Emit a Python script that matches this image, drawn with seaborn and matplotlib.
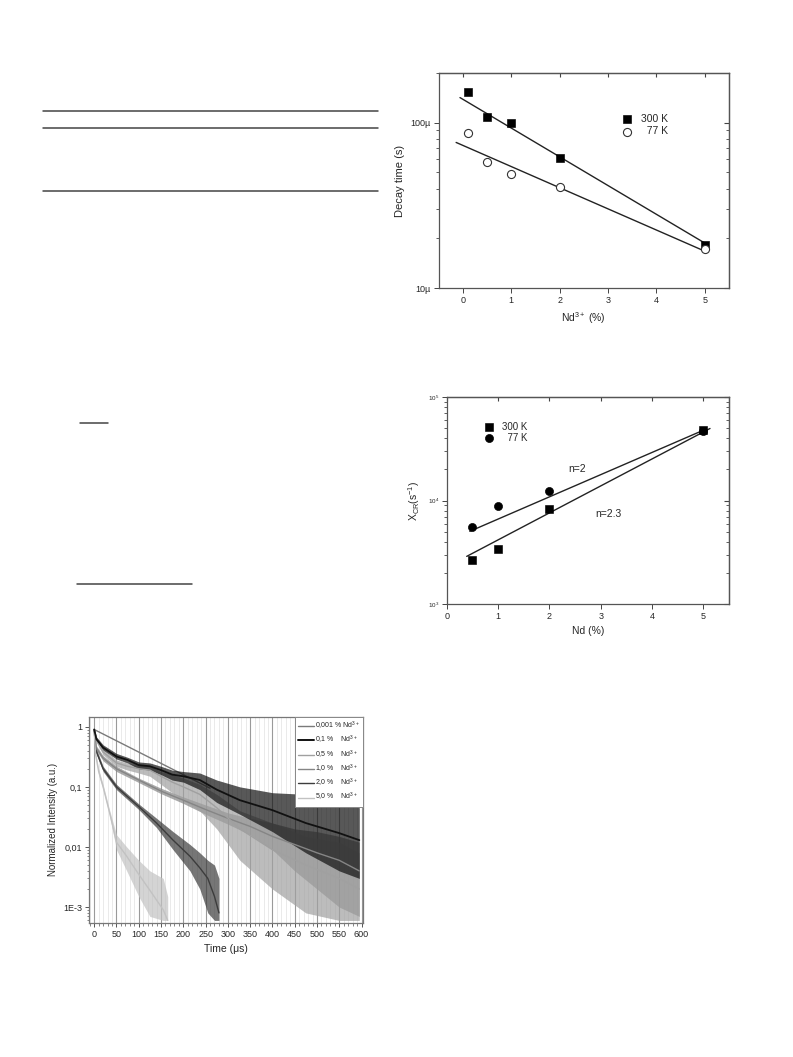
import numpy as np
import pandas as pd
import matplotlib
matplotlib.use('Agg')
import matplotlib.pyplot as plt
import matplotlib.ticker as mticker
from matplotlib.lines import Line2D
import seaborn as sns

# ---- data ----
# decay time vs Nd concentration
nd_conc = [0.1, 0.5, 1.0, 2.0, 5.0]
tau_300k = [1.53e-4, 1.08e-4, 1.0e-4, 6.1e-5, 1.82e-5]
tau_77k = [8.7e-5, 5.8e-5, 4.9e-5, 4.1e-5, 1.71e-5]
fit_x_300k = [-0.06, 5.0]
fit_y_300k = [1.42e-4, 1.87e-5]
fit_x_77k = [-0.14, 5.0]
fit_y_77k = [7.6e-5, 1.67e-5]

# cross relaxation rate vs Nd concentration
nd_cr = [0.5, 1.0, 2.0, 5.0]
xcr_300k = [2650, 3400, 8300, 48000]
xcr_77k = [5600, 8800, 12500, 46500]
cr_fit_x_300k = [0.39, 5.13]
cr_fit_y_300k = [2900, 49700]
cr_fit_x_77k = [0.45, 5.03]
cr_fit_y_77k = [5060, 48500]

# luminescence decay curves (centre line + noise envelope)
t_0001 = [0, 260]
i_0001 = [0.9, 0.095]

t_01 = [0, 5, 20, 50, 75, 100, 125, 150, 175, 200, 237, 275, 327, 400, 475, 550, 595]
i_01 = [0.9, 0.62, 0.45, 0.32, 0.28, 0.23, 0.22, 0.19, 0.16, 0.15, 0.13, 0.09, 0.06, 0.041, 0.025, 0.017, 0.013]
hi_01 = [0.95, 0.68, 0.5, 0.36, 0.31, 0.26, 0.25, 0.22, 0.19, 0.18, 0.17, 0.13, 0.1, 0.08, 0.075, 0.06, 0.045]
lo_01 = [0.85, 0.57, 0.41, 0.29, 0.25, 0.2, 0.19, 0.16, 0.13, 0.12, 0.09, 0.055, 0.035, 0.018, 0.008, 0.004, 0.003]

t_05 = t_01
i_05 = [0.9, 0.6, 0.38, 0.25, 0.22, 0.2, 0.19, 0.15, 0.12, 0.1, 0.075, 0.045, 0.02, 0.009, 0.005, 0.003, 0.002]
hi_05 = [0.95, 0.66, 0.42, 0.28, 0.25, 0.23, 0.22, 0.18, 0.16, 0.14, 0.11, 0.075, 0.04, 0.025, 0.015, 0.012, 0.008]
lo_05 = [0.85, 0.55, 0.34, 0.22, 0.19, 0.17, 0.15, 0.11, 0.08, 0.06, 0.04, 0.02, 0.006, 0.002, 0.0008, 0.0006, 0.0006]

t_10 = [0, 5, 20, 50, 100, 150, 200, 250, 300, 350, 400, 450, 500, 550, 595]
i_10 = [0.9, 0.44, 0.3, 0.2, 0.13, 0.085, 0.06, 0.042, 0.03, 0.022, 0.015, 0.011, 0.008, 0.006, 0.004]
hi_10 = [0.95, 0.48, 0.33, 0.22, 0.14, 0.095, 0.068, 0.05, 0.037, 0.03, 0.025, 0.02, 0.018, 0.015, 0.012]
lo_10 = [0.85, 0.4, 0.27, 0.18, 0.118, 0.077, 0.053, 0.035, 0.024, 0.016, 0.009, 0.004, 0.002, 0.001, 0.0007]

t_20 = [0, 3, 20, 50, 100, 140, 177, 215, 237, 255, 270, 280]
i_20 = [0.9, 0.42, 0.2, 0.1, 0.047, 0.025, 0.013, 0.007, 0.0045, 0.003, 0.0015, 0.0008]
hi_20 = [0.95, 0.46, 0.22, 0.11, 0.052, 0.03, 0.018, 0.011, 0.008, 0.006, 0.005, 0.003]
lo_20 = [0.85, 0.38, 0.18, 0.09, 0.042, 0.021, 0.009, 0.004, 0.002, 0.0008, 0.0006, 0.0006]

t_50 = [0, 3, 10, 20, 35, 50, 73, 100, 125, 155, 165]
i_50 = [0.9, 0.35, 0.18, 0.1, 0.036, 0.012, 0.007, 0.0035, 0.0019, 0.0009, 0.0006]
hi_50 = [0.95, 0.38, 0.2, 0.11, 0.04, 0.016, 0.01, 0.006, 0.004, 0.003, 0.0015]
lo_50 = [0.85, 0.32, 0.16, 0.09, 0.032, 0.009, 0.004, 0.0015, 0.0007, 0.0006, 0.0006]

curve_labels = ['0,001 % Nd$^{3+}$', '0,1 %    Nd$^{3+}$', '0,5 %    Nd$^{3+}$',
                '1,0 %    Nd$^{3+}$', '2,0 %    Nd$^{3+}$', '5,0 %    Nd$^{3+}$']

# page rules (table lines etc.) in pixels: x0, x1, y
page_rules = [(43, 378, 110.7), (43, 378, 128), (43, 378, 191), (80, 108, 423.3), (77, 192, 584)]

# ---- styling ----
sns.set_style('ticks')
plt.rcParams['font.family'] = ['Liberation Sans', 'DejaVu Sans']
plt.rcParams['mathtext.fontset'] = 'custom'
plt.rcParams['mathtext.rm'] = 'Liberation Sans'
plt.rcParams['mathtext.it'] = 'Liberation Sans'
plt.rcParams['axes.edgecolor'] = '#555555'
plt.rcParams['axes.linewidth'] = 0.9

W, H = 793, 1057
fig = plt.figure(figsize=(W / 100, H / 100), dpi=100)

for x0, x1, y in page_rules:
    fig.add_artist(Line2D([x0 / W, x1 / W], [1 - y / H, 1 - y / H], color='#444444', lw=1.1,
                          transform=fig.transFigure))


def frame_ticks(ax, xminor=False):
    ax.tick_params(which='major', length=3.5, width=0.7, labelsize=6.5, color='#444444', pad=2)
    ax.tick_params(which='minor', length=2, width=0.6, color='#444444')
    sy = ax.secondary_yaxis('right')
    sy.tick_params(which='both', direction='in', labelright=False, color='#444444')
    sy.tick_params(which='major', length=3.5)
    sy.tick_params(which='minor', length=2)
    sx = ax.secondary_xaxis('top')
    sx.tick_params(which='both', direction='in', labeltop=False, color='#444444', length=3)
    sx.xaxis.set_minor_locator(mticker.NullLocator())
    if not xminor:
        ax.xaxis.set_minor_locator(mticker.NullLocator())
    return sx, sy


# ---- chart 1: decay time ----
ax1 = fig.add_axes([438.7 / W, 1 - 288 / H, 290.3 / W, 215 / H])
sns.lineplot(x=fit_x_300k, y=fit_y_300k, ax=ax1, color='#222222', lw=1)
sns.lineplot(x=fit_x_77k, y=fit_y_77k, ax=ax1, color='#222222', lw=1)
sns.scatterplot(x=nd_conc, y=tau_300k, ax=ax1, marker='s', s=30, color='black', edgecolor='black',
                label='300 K', zorder=3)
sns.scatterplot(x=nd_conc, y=tau_77k, ax=ax1, marker='o', s=34, facecolor='white', edgecolor='#333333',
                linewidth=0.8, label='  77 K', zorder=3)
ax1.set_yscale('log')
ax1.set_xlim(-0.5, 5.5)
ax1.set_ylim(1e-5, 2e-4)
ax1.set_yticks([1e-5, 1e-4])
ax1.set_yticklabels(['10µ', '100µ'])
ax1.yaxis.set_minor_locator(mticker.LogLocator(subs=np.arange(2, 10)))
ax1.yaxis.set_minor_formatter(mticker.NullFormatter())
ax1.set_xticks([0, 1, 2, 3, 4, 5])
ax1.set_xlabel('Nd$^{3+}$ (%)', fontsize=7.5)
ax1.set_ylabel('Decay time (s)', fontsize=8)
frame_ticks(ax1)
ax1.legend(loc='upper left', bbox_to_anchor=(0.6, 0.83), frameon=False, fontsize=7.5,
           handletextpad=0.3, labelspacing=0.25, borderaxespad=0)

# ---- chart 2: cross relaxation ----
ax2 = fig.add_axes([446.7 / W, 1 - 604.3 / H, 282.3 / W, 207.3 / H])
sns.lineplot(x=cr_fit_x_300k, y=cr_fit_y_300k, ax=ax2, color='#222222', lw=1)
sns.lineplot(x=cr_fit_x_77k, y=cr_fit_y_77k, ax=ax2, color='#222222', lw=1)
sns.scatterplot(x=nd_cr, y=xcr_300k, ax=ax2, marker='s', s=28, color='black', edgecolor='black',
                label='300 K', zorder=3)
sns.scatterplot(x=nd_cr, y=xcr_77k, ax=ax2, marker='o', s=34, color='black', edgecolor='black',
                label='  77 K', zorder=3)
ax2.set_yscale('log')
ax2.set_xlim(0, 5.5)
ax2.set_ylim(1e3, 1e5)
ax2.set_xticks([0, 1, 2, 3, 4, 5])
ax2.yaxis.set_minor_locator(mticker.LogLocator(subs=np.arange(2, 10)))
ax2.yaxis.set_minor_formatter(mticker.NullFormatter())
ax2.set_xlabel('Nd (%)', fontsize=7.5)
ax2.set_ylabel('X$_{CR}$(s$^{-1}$)', fontsize=7.5)
frame_ticks(ax2)
ax2.tick_params(axis='y', which='major', labelsize=4.5)
ax2.legend(loc='upper left', bbox_to_anchor=(0.1, 0.9), frameon=False, fontsize=7,
           handletextpad=0.4, labelspacing=0.1, borderaxespad=0)
ax2.text(2.37, 2.0e4, 'n=2', fontsize=7.5, ha='left', va='center')
ax2.text(2.9, 7.5e3, 'n=2.3', fontsize=7.5, ha='left', va='center')

# ---- chart 3: decay curves ----
ax3 = fig.add_axes([89.3 / W, 1 - 922.7 / H, 274 / W, 206 / H])
ax3.set_yscale('log')
ax3.set_xlim(-11, 604)
ax3.set_ylim(5.5e-4, 1.47)
ax3.xaxis.set_major_locator(mticker.MultipleLocator(50))
ax3.xaxis.set_minor_locator(mticker.MultipleLocator(10))
ax3.grid(axis='x', which='major', color='#9a9a9a', lw=0.8)
ax3.grid(axis='x', which='minor', color='#e2e2e2', lw=0.5)
ax3.set_axisbelow(True)

curves = [
    (t_10, i_10, hi_10, lo_10, '#858585', 1.0),
    (t_05, i_05, hi_05, lo_05, '#a0a0a0', 1.0),
    (t_20, i_20, hi_20, lo_20, '#3c3c3c', 1.0),
    (t_50, i_50, hi_50, lo_50, '#c2c2c2', 1.0),
    (t_01, i_01, hi_01, lo_01, '#111111', 1.3),
]
sns.lineplot(x=t_0001, y=i_0001, ax=ax3, color='#7a7a7a', lw=1.0, zorder=1)
for t, v, hi, lo, c, lw in curves:
    ax3.fill_between(t, lo, hi, color=c, lw=0, alpha=0.7)
    sns.lineplot(x=t, y=v, ax=ax3, color=c, lw=lw, estimator=None)

handle_colors = ['#7a7a7a', '#111111', '#a0a0a0', '#858585', '#3c3c3c', '#c2c2c2']
handle_widths = [1.0, 1.4, 1.0, 1.0, 1.0, 1.0]
handles = [Line2D([], [], color=c, lw=w) for c, w in zip(handle_colors, handle_widths)]
leg = ax3.legend(handles, curve_labels, loc='upper right', fontsize=5, frameon=True, fancybox=False,
                 edgecolor='#888888', framealpha=1, handlelength=2.3, handletextpad=0.2,
                 labelspacing=0.3, borderaxespad=0, borderpad=0.45)
leg.get_frame().set_linewidth(0.7)

ax3.set_yticks([1, 0.1, 0.01, 0.001])
ax3.set_yticklabels(['1', '0,1', '0,01', '1E-3'])
ax3.yaxis.set_minor_locator(mticker.LogLocator(subs=np.arange(2, 10)))
ax3.yaxis.set_minor_formatter(mticker.NullFormatter())
ax3.tick_params(which='major', length=3, width=0.7, labelsize=6.5, color='#555555', pad=2)
ax3.tick_params(which='minor', length=1.8, width=0.5, color='#555555')
ax3.set_xlabel('Time (μs)', fontsize=7.5)
ax3.set_ylabel('Normalized Intensity (a.u.)', fontsize=7)
for s in ax3.spines.values():
    s.set_color('#777777')

fig.savefig('out.png', dpi=100, facecolor='white')
